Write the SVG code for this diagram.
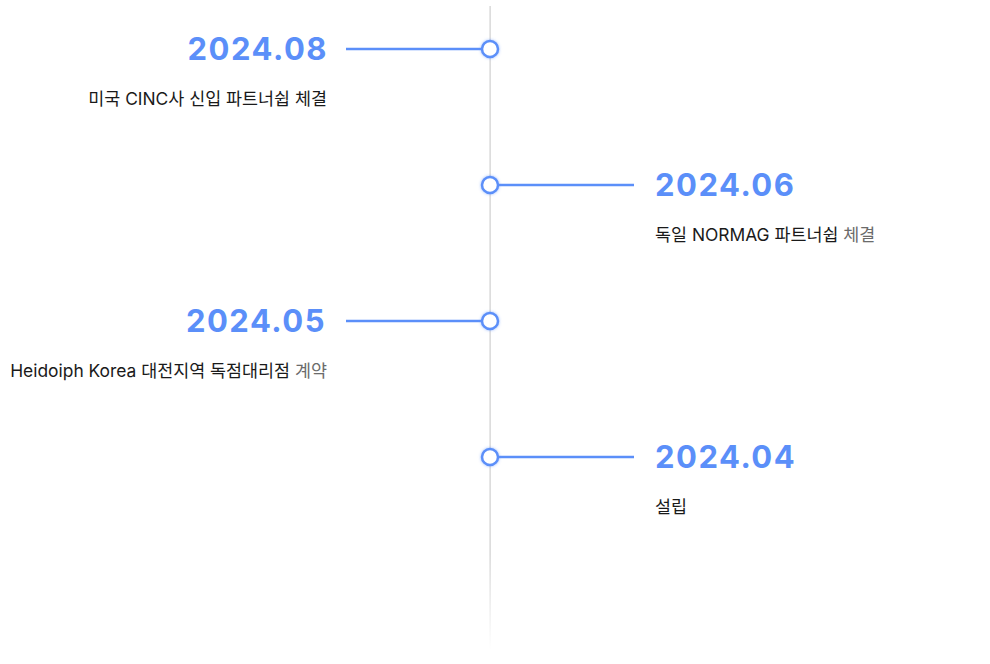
<svg xmlns="http://www.w3.org/2000/svg" width="990" height="664" viewBox="0 0 990 664">
<defs>
<linearGradient id="vfade" x1="0" y1="0" x2="0" y2="1">
<stop offset="0" stop-color="#cfcfcf"/>
<stop offset="0.85" stop-color="#cfcfcf"/>
<stop offset="1" stop-color="#cfcfcf" stop-opacity="0"/>
</linearGradient>
<filter id="glow" x="-100%" y="-100%" width="300%" height="300%">
<feGaussianBlur in="SourceAlpha" stdDeviation="2"/>
<feFlood flood-color="#5b8ff9" flood-opacity="0.6"/>
<feComposite operator="in" in2="SourceAlpha"/>
<feGaussianBlur stdDeviation="1.5"/>
<feMerge><feMergeNode/><feMergeNode in="SourceGraphic"/></feMerge>
</filter>
<style>
.date{font-family:Inter,"Liberation Sans",sans-serif;font-weight:700;font-size:31px;fill:#5b8ff9;letter-spacing:1.5px}
.desc{font-family:Inter,"Noto Sans CJK KR",sans-serif;font-size:17.4px;fill:#1a1a1a}
.gray{fill:#6b6b6b}
.conn{stroke:#5b8ff9;stroke-width:2.5;fill:none}
.dot{fill:#fff;stroke:#5b8ff9;stroke-width:2.5}
</style>
</defs>
<rect width="990" height="664" fill="#fff"/>
<g id="connectors">
<rect x="489.5" y="6" width="1.2" height="644" fill="url(#vfade)"/>
<line class="conn" x1="346" y1="49" x2="490" y2="49"/>
<line class="conn" x1="490" y1="185" x2="634" y2="185"/>
<line class="conn" x1="346" y1="321" x2="490" y2="321"/>
<line class="conn" x1="490" y1="457" x2="634" y2="457"/>
</g>
<g id="node-2024-08">
<circle class="dot" cx="490" cy="49" r="8" filter="url(#glow)"/>
<text class="date" x="328" y="60" text-anchor="end">2024.08</text>
<text class="desc" x="327" y="105" text-anchor="end">미국 CINC사 신입 파트너쉽 체결</text>
</g>
<g id="node-2024-06">
<circle class="dot" cx="490" cy="185" r="8" filter="url(#glow)"/>
<text class="date" x="655" y="196">2024.06</text>
<text class="desc" x="655" y="241">독일 NORMAG 파트너쉽 <tspan class="gray">체결</tspan></text>
</g>
<g id="node-2024-05">
<circle class="dot" cx="490" cy="321" r="8" filter="url(#glow)"/>
<text class="date" x="326" y="332" text-anchor="end">2024.05</text>
<text class="desc" x="327" y="377" text-anchor="end">Heidoiph Korea 대전지역 독점대리점 <tspan class="gray">계약</tspan></text>
</g>
<g id="node-2024-04">
<circle class="dot" cx="490" cy="457" r="8" filter="url(#glow)"/>
<text class="date" x="655" y="468">2024.04</text>
<text class="desc" x="655" y="513">설립</text>
</g>
</svg>
